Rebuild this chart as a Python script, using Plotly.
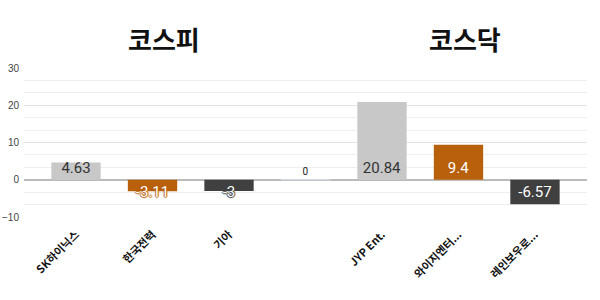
import plotly.graph_objects as go

categories = ["SK하이닉스", "한국전력", "기아", " ", "JYP Ent.", "와이지엔터...", "레인보우로..."]
values = [4.63, -3.11, -3, None, 20.84, 9.4, -6.57]
groups = ["gray", "orange", "dark", "none", "gray", "orange", "dark"]
titles = ["코스피", "코스닥"]
yticks = [-10, 0, 10, 20, 30]

colors = {"gray": "#c8c8c8", "orange": "#b8600c", "dark": "#404040"}
textcolors = {"gray": "#333333", "orange": "#ffffff", "dark": "#ffffff"}

fig = go.Figure()
for g in ["gray", "orange", "dark"]:
    xs = [c for c, gg in zip(categories, groups) if gg == g]
    ys = [v for v, gg in zip(values, groups) if gg == g]
    sh = "none" if g == "gray" else ("1px 0 1px {c}, -1px 0 1px {c}, 0 1px 1px {c}, 0 -1px 1px {c}".format(c=colors[g]))
    fig.add_trace(go.Bar(
        x=xs, y=ys, width=0.645,
        marker=dict(color=colors[g], line=dict(width=0)),
        text=[f"{v:g}" for v in ys],
        textposition="inside", insidetextanchor="start", constraintext="none", textangle=0,
        textfont=dict(family="Roboto, sans-serif", size=15, color=textcolors[g], shadow=sh),
        showlegend=False, hoverinfo="skip",
    ))

# empty slot showing 0
fig.add_trace(go.Bar(
    x=[categories[3]], y=[0], width=0.645,
    marker=dict(color="rgba(0,0,0,0)"),
    text=["0"], textposition="outside", textangle=0,
    textfont=dict(family="Roboto, sans-serif", size=10, color="#222222"),
    showlegend=False, hoverinfo="skip", cliponaxis=False,
))

L, R, T, B = 24, 13, 68, 83
pw, ph = 600 - L - R, 300 - T - B

fig.update_layout(
    width=600, height=300,
    margin=dict(l=L, r=R, t=T, b=B, autoexpand=False),
    paper_bgcolor="white", plot_bgcolor="white",
    barmode="overlay",
    xaxis=dict(
        type="category", categoryorder="array", categoryarray=categories,
        range=[-0.68, 6.68], tickangle=-45, showgrid=False, showline=False, ticks="",
        automargin=False, ticklabelstandoff=8,
        tickfont=dict(family="Noto Sans CJK KR, sans-serif", size=11, color="#111111", weight="bold"),
    ),
    yaxis=dict(
        range=[-10, 30], tickvals=yticks, showgrid=True, gridcolor="#e2e2e2", gridwidth=1,
        zeroline=True, zerolinecolor="#bbbbbb", zerolinewidth=2, automargin=False,
        minor=dict(dtick=10/3, tick0=0, showgrid=True, gridcolor="#eeeeee", gridwidth=1, ticks=""),
        tickfont=dict(family="Liberation Sans, sans-serif", size=10, color="#444444"),
        ticklabelstandoff=4,
    ),
    annotations=[
        dict(text=f"<b>{titles[0]}</b>", x=(163.5 - L) / pw, y=(300 - B - 38) / ph, xref="paper", yref="paper",
             showarrow=False, xanchor="center", yanchor="middle",
             font=dict(family="Noto Sans CJK KR, sans-serif", size=26, color="#111111")),
        dict(text=f"<b>{titles[1]}</b>", x=(465 - L) / pw, y=(300 - B - 38) / ph, xref="paper", yref="paper",
             showarrow=False, xanchor="center", yanchor="middle",
             font=dict(family="Noto Sans CJK KR, sans-serif", size=26, color="#111111")),
    ],
)

fig.write_html("out.html")
